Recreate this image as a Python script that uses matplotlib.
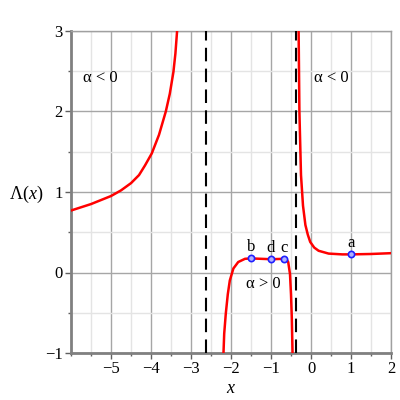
import matplotlib
matplotlib.use("Agg")
import matplotlib.pyplot as plt
from matplotlib.ticker import MultipleLocator, FixedLocator

# Curve branches
left_x = [-6.0, -5.5, -5.0, -4.75, -4.5, -4.3, -4.15, -3.98, -3.8, -3.63, -3.53, -3.44, -3.39, -3.34]
left_y = [0.77, 0.85, 0.95, 1.02, 1.11, 1.21, 1.33, 1.48, 1.71, 2.0, 2.22, 2.49, 2.72, 3.05]

mid_x = [-2.19, -2.17, -2.13, -2.08, -2.03, -1.94, -1.82, -1.65, -1.5, -1.25, -1.0, -0.8,
         -0.675, -0.6, -0.57, -0.525, -0.50, -0.48, -0.46]
mid_y = [-1.03, -0.76, -0.51, -0.27, -0.10, 0.05, 0.13, 0.17, 0.175, 0.17, 0.165, 0.168,
         0.17, 0.155, 0.13, -0.02, -0.27, -0.56, -1.03]

right_x = [-0.31, -0.29, -0.25, -0.2, -0.14, -0.08, -0.02, 0.08, 0.19, 0.44, 0.78, 1.0, 1.5, 2.0]
right_y = [3.03, 2.0, 1.21, 0.83, 0.59, 0.47, 0.38, 0.31, 0.27, 0.235, 0.225, 0.225, 0.23, 0.24]

asymptotes = [-2.618, -0.382]

pt_names = ["a", "b", "c", "d"]
pt_x = [1.0, -1.5, -0.675, -1.0]
pt_y = [0.225, 0.175, 0.17, 0.165]

region_labels = ["α < 0", "α < 0", "α > 0"]
region_x = [-5.27, 0.52, -1.2]
region_y = [2.42, 2.42, -0.14]

xticks = [-5, -4, -3, -2, -1, 0, 1, 2]
yticks = [-1, 0, 1, 2, 3]

plt.rcParams['font.family'] = ['Liberation Serif', 'DejaVu Serif']
plt.rcParams['axes.unicode_minus'] = True
plt.rcParams['mathtext.fontset'] = 'custom'
plt.rcParams['mathtext.rm'] = 'Liberation Serif'
plt.rcParams['mathtext.it'] = 'Liberation Serif:italic'

fig = plt.figure(figsize=(4, 4), dpi=100)
ax = fig.add_axes([0.1775, 0.1175, 0.8, 0.805])

ax.set_xlim(-6, 2)
ax.set_ylim(-1, 3)

ax.xaxis.set_major_locator(FixedLocator(xticks))
ax.yaxis.set_major_locator(FixedLocator(yticks))
ax.xaxis.set_minor_locator(MultipleLocator(0.5))
ax.yaxis.set_minor_locator(MultipleLocator(0.5))
ax.grid(which='major', color='#a6a6a6', linewidth=1.0, zorder=0)
ax.grid(which='minor', color='#e4e4e4', linewidth=1.0, zorder=0)
ax.set_axisbelow(True)

for s in ax.spines.values():
    s.set_color('#a0a0a0')
    s.set_linewidth(1.0)
ax.spines['left'].set_color('#808080')
ax.spines['bottom'].set_color('#808080')
ax.spines['left'].set_linewidth(2.0)
ax.spines['bottom'].set_linewidth(2.0)

ax.tick_params(which='major', direction='out', length=4, width=1, color='#606060',
               labelsize=12, pad=2)
ax.tick_params(which='minor', direction='out', length=2.5, width=1, color='#606060')

for xa in asymptotes:
    ax.axvline(xa, color='black', linestyle=(0, (6.5, 3.5)), linewidth=1.5, zorder=3)

for xs, ys in [(left_x, left_y), (mid_x, mid_y), (right_x, right_y)]:
    ax.plot(xs, ys, color='red', linewidth=1.8, zorder=4, solid_joinstyle='round')

ax.plot(pt_x, pt_y, linestyle='none', marker='o', markersize=4.5,
        markerfacecolor='#b0b0ff', markeredgecolor='#2020ff', markeredgewidth=1.2, zorder=5)
for n, xv, yv in zip(pt_names, pt_x, pt_y):
    ax.text(xv, yv + 0.04, n, ha='center', va='bottom', fontsize=12, zorder=6)

for t, xv, yv in zip(region_labels, region_x, region_y):
    ax.text(xv, yv, t, ha='center', va='center', fontsize=12, zorder=6)

ax.set_xlabel('$x$', fontsize=13, labelpad=2)
fig.text(0.065, 0.515, 'Λ($x$)', ha='center', va='center', fontsize=13)

fig.savefig('out.png', dpi=100)
